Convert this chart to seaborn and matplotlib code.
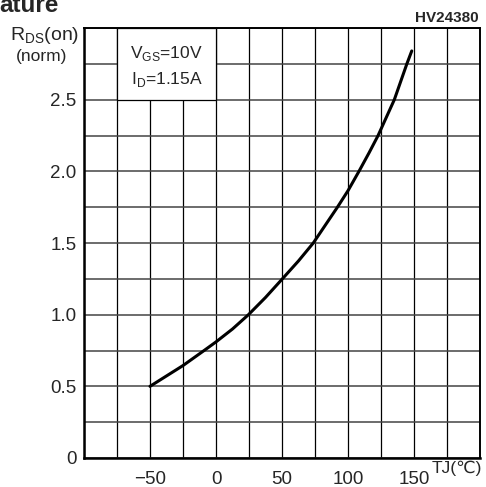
import matplotlib
matplotlib.use("Agg")
import matplotlib.pyplot as plt
from matplotlib.patches import Rectangle
from matplotlib.ticker import MultipleLocator
import seaborn as sns

# Curve values (Tj in degC, normalised Rds(on))
temps = [-50, -25, -9, 0, 12.5, 24.6, 37.5, 50.3, 62.5, 73.7, 92,
         100, 108.3, 116, 122.8, 135.1, 144.6, 148.3]
rds = [0.50, 0.645, 0.75, 0.81, 0.90, 1.0, 1.12, 1.25, 1.375, 1.50, 1.75,
       1.865, 2.0, 2.13, 2.25, 2.50, 2.75, 2.84]

xticks = [-50, 0, 50, 100, 150]
xtick_labels = ["\u221250", "0", "50", "100", "150"]
yticks = [0, 0.5, 1.0, 1.5, 2.0, 2.5]
ytick_labels = ["0", "0.5", "1.0", "1.5", "2.0", "2.5"]

sns.set_style("white")
plt.rcParams["font.family"] = ["Liberation Sans", "DejaVu Sans"]

fig = plt.figure(figsize=(4.86, 4.87), dpi=100)
ax = fig.add_axes([84 / 486, 29 / 487, 396 / 486, 430 / 487])

sns.lineplot(x=temps, y=rds, color="black", linewidth=2.2, ax=ax, zorder=5)

ax.set_xlim(-100, 200)
ax.set_ylim(0, 3.0)
ax.set_xticks(xticks)
ax.set_xticklabels(xtick_labels, fontsize=13.5)
ax.set_yticks(yticks)
ax.set_yticklabels(ytick_labels, fontsize=13.5)
ax.xaxis.set_minor_locator(MultipleLocator(25))
ax.yaxis.set_minor_locator(MultipleLocator(0.25))
ax.tick_params(which="both", length=0)
ax.tick_params(axis="x", pad=9)
ax.tick_params(axis="y", pad=5.5)

ax.grid(which="both", axis="x", color="black", linewidth=0.9)
ax.grid(which="both", axis="y", color="#444444", linewidth=1.1)
ax.set_axisbelow(True)

for s in ax.spines.values():
    s.set_color("black")
    s.set_linewidth(1.4)
ax.spines["bottom"].set_linewidth(1.8)
ax.spines["left"].set_linewidth(1.8)

# condition box
ax.add_patch(Rectangle((-75, 2.5), 75, 0.5, facecolor="white",
                       edgecolor="black", linewidth=0.9, zorder=3))
ax.text(-37.5, 2.82, r"V$_{\mathregular{GS}}$=10V", ha="center", va="center",
        fontsize=12.5, zorder=6)
ax.text(-37.5, 2.64, r"I$_{\mathregular{D}}$=1.15A", ha="center", va="center",
        fontsize=12.5, zorder=6)

# axis labels
fig.text(45 / 486, 1 - 36 / 487, r"R$_{\mathregular{DS}}$(on)", ha="center",
         va="center", fontsize=14)
fig.text(41.5 / 486, 1 - 56 / 487, "(norm)", ha="center", va="center",
         fontsize=12.5)
fig.text(432 / 486, 1 - 468 / 487, "TJ(\u2103)", ha="left", va="center",
         fontsize=12.5)

fig.text(479 / 486, 1 - 18 / 487, "HV24380", ha="right", va="center",
         fontsize=11, fontweight="bold")
fig.text(-0.002, 1 - 12 / 487, "ature", ha="left", va="baseline",
         fontsize=17.5, fontweight="bold")

fig.savefig("out.png", dpi=100)
